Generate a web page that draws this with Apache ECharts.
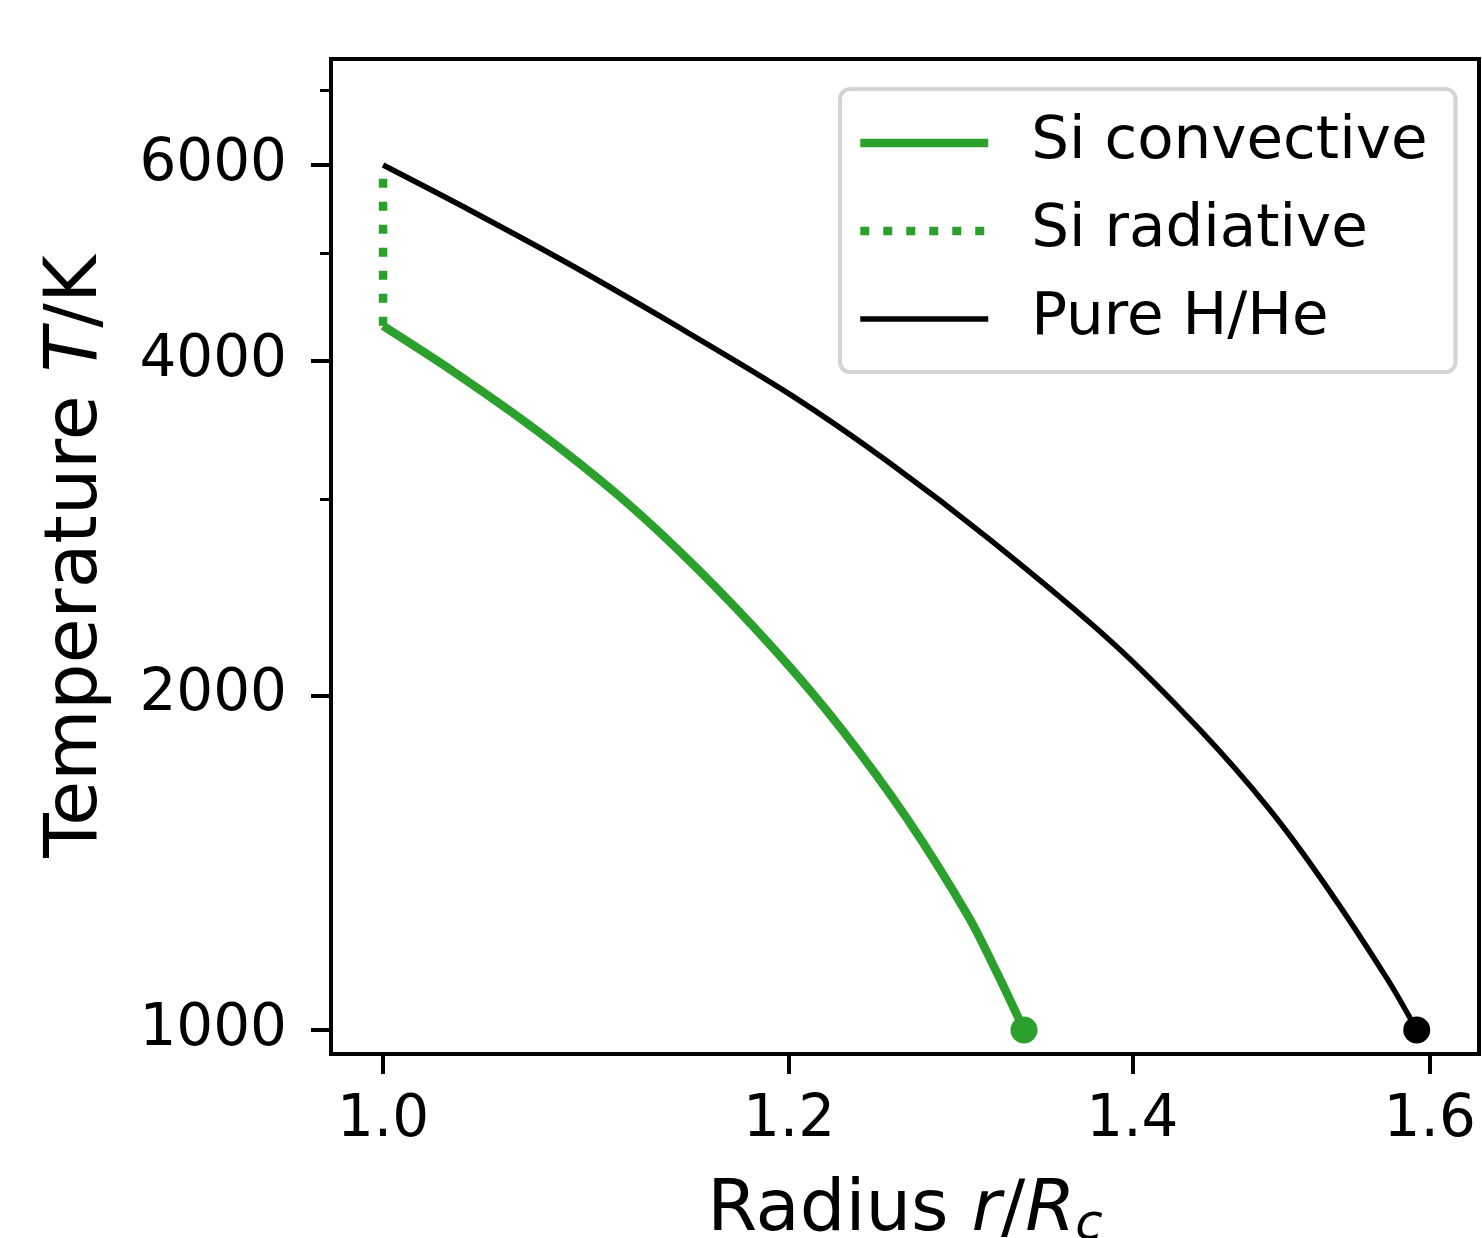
<!DOCTYPE html>
<html>
<head>
<meta charset="utf-8">
<title>Temperature profile</title>
<script src="https://cdn.jsdelivr.net/npm/echarts@6/dist/echarts.min.js"></script>
<style>html, body { margin: 0; padding: 0; background: #fff; }</style>
</head>
<body>
<div id="main" style="width:1482px;height:1238px;"></div>
<script>
// values (log-log plot)
var radiusSi = [1.0, 1.0320, 1.0709, 1.1122, 1.1511, 1.1937, 1.2287, 1.2651, 1.3005, 1.3174, 1.3335];
var tempSi = [4300, 3913, 3469, 3019, 2605, 2184, 1864, 1551, 1266, 1126, 1000];
var radiusRad = [1.0, 1.0];
var tempRad = [4300, 6000];
var radiusHHe = [1.0, 1.0398, 1.0876, 1.1374, 1.2005, 1.2555, 1.3131, 1.3862, 1.4429, 1.4890, 1.5275, 1.5701, 1.5907];
var tempHHe = [6000, 5464, 4883, 4335, 3731, 3237, 2763, 2240, 1864, 1579, 1346, 1110, 1000];
var xTicks = [1.0, 1.2, 1.4, 1.6];
var yTicks = [1000, 2000, 4000, 6000];
var yMinorTicks = [3000, 5000, 7000];

var FONT = 'DejaVu Sans';
var GREEN = '#2ca02c';

function pairs(xs, ys, endMarker) {
    return xs.map(function (x, i) {
        var item = { value: [x, ys[i]] };
        if (endMarker && i === xs.length - 1) {
            item.symbol = 'circle';
            item.symbolSize = 27;
        }
        return item;
    });
}

var chart = echarts.init(document.getElementById('main'));

var option = {
    backgroundColor: '#fff',
    animation: false,
    textStyle: { fontFamily: FONT, color: '#000' },
    grid: {
        left: 331, top: 59, right: 3, bottom: 184,
        outerBoundsMode: 'none', containLabel: false,
        show: true, borderColor: '#000', borderWidth: 4, backgroundColor: 'transparent'
    },
    legend: {
        orient: 'vertical',
        left: 840, top: 89,
        data: ['Si convective', 'Si radiative', 'Pure H/He'],
        itemWidth: 128, itemHeight: 20, itemGap: 28,
        padding: [24, 28, 23, 16],
        backgroundColor: 'rgba(255,255,255,0.8)',
        borderColor: '#d4d4d4', borderWidth: 4, borderRadius: 10,
        itemStyle: { opacity: 0 },
        lineStyle: { width: 'inherit', type: 'inherit', opacity: 1 },
        textStyle: { fontFamily: FONT, fontSize: 59.5, color: '#000', padding: [0, 0, 0, 38] }
    },
    xAxis: {
        type: 'log',
        min: 0.9769, max: 1.6358,
        name: '{n|Radius }{i|r}{n|/}{i|R}{s|c}',
        nameLocation: 'middle', nameGap: 117,
        nameTextStyle: {
            rich: {
                n: { fontFamily: FONT, fontSize: 72, color: '#000' },
                i: { fontFamily: FONT, fontSize: 72, fontStyle: 'italic', color: '#000' },
                s: { fontFamily: FONT, fontSize: 50, fontStyle: 'italic', color: '#000', padding: [30, 0, 0, 0] }
            }
        },
        axisLine: { show: true, lineStyle: { color: '#000', width: 4 } },
        axisTick: { show: true, inside: false, length: 20, lineStyle: { color: '#000', width: 4 }, customValues: xTicks },
        axisLabel: { show: true, fontFamily: FONT, fontSize: 58, color: '#000', margin: 38, customValues: xTicks,
            formatter: function (v) { return v.toFixed(1); } },
        splitLine: { show: false },
        minorTick: { show: false }
    },
    yAxis: [{
        type: 'log',
        min: 951.5, max: 7474,
        name: '{n|Temperature }{i|T}{n|/K}',
        nameLocation: 'middle', nameGap: 217,
        nameTextStyle: {
            rich: {
                n: { fontFamily: FONT, fontSize: 73, color: '#000' },
                i: { fontFamily: FONT, fontSize: 73, fontStyle: 'italic', color: '#000' }
            }
        },
        axisLine: { show: true, lineStyle: { color: '#000', width: 4 } },
        axisTick: { show: true, inside: false, length: 20, lineStyle: { color: '#000', width: 4 }, customValues: yTicks },
        axisLabel: { show: true, fontFamily: FONT, fontSize: 58, color: '#000', margin: 44, customValues: yTicks,
            formatter: function (v) { return String(Math.round(v)); } },
        splitLine: { show: false }
    }, {
        type: 'log',
        position: 'left',
        min: 951.5, max: 7474,
        axisLine: { show: false },
        axisTick: { show: true, inside: false, length: 11, lineStyle: { color: '#000', width: 3 }, customValues: yMinorTicks },
        axisLabel: { show: false },
        splitLine: { show: false }
    }],
    series: [{
        name: 'Si convective',
        type: 'line',
        data: pairs(radiusSi, tempSi, true),
        symbol: 'none',
        smooth: 0.3,
        color: GREEN,
        itemStyle: { color: GREEN },
        lineStyle: { color: GREEN, width: 8.5 },
        z: 3
    }, {
        name: 'Si radiative',
        type: 'line',
        data: pairs(radiusRad, tempRad, false),
        symbol: 'none',
        color: GREEN,
        itemStyle: { color: GREEN },
        lineStyle: { color: GREEN, width: 8.5, type: [9, 14], cap: 'butt' },
        z: 3
    }, {
        name: 'Pure H/He',
        type: 'line',
        data: pairs(radiusHHe, tempHHe, true),
        symbol: 'none',
        smooth: 0.3,
        color: '#000',
        itemStyle: { color: '#000' },
        lineStyle: { color: '#000', width: 5.5 },
        z: 3
    }]
};

chart.setOption(option);
</script>
</body>
</html>
